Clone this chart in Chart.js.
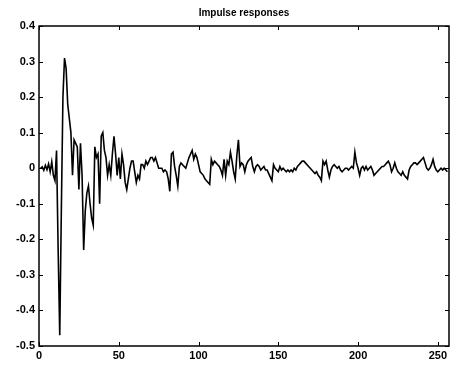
<!DOCTYPE html>
<html>
<head>
<meta charset="utf-8">
<script src="https://cdn.jsdelivr.net/npm/chart.js@4/dist/chart.umd.min.js"></script>
<style>
  html, body { margin: 0; padding: 0; background: #fff; }
  #wrap { width: 454px; height: 369px; }
</style>
</head>
<body>
<div id="wrap"><canvas id="impChart" width="454" height="369"></canvas></div>
<script>
// sample values, sample n = 1..256
const response = [
    0.00, 0.004, -0.006, 0.008, -0.004, 0.012, -0.01, 0.018, -0.02, -0.035,
    0.05, -0.23, -0.47, -0.12, 0.20, 0.31, 0.28, 0.18, 0.14, 0.10,
    -0.02, 0.08, 0.07, 0.06, -0.06, 0.07, -0.02, -0.23, -0.12, -0.07,
    -0.05, -0.10, -0.14, -0.16, 0.06, 0.03, 0.04, -0.10, 0.09, 0.10,
    0.05, 0.03, -0.02, 0.01, -0.02, 0.04, 0.09, 0.04, -0.02, 0.03,
    -0.03, 0.04, 0.01, -0.04, -0.06, -0.03, 0.00, 0.02, 0.02, -0.01,
    -0.04, -0.02, -0.03, 0.01, 0.01, 0.00, 0.02, 0.01, 0.02, 0.03,
    0.03, 0.02, 0.03, 0.015, 0.00, 0.00, 0.00, -0.01, -0.005, -0.01,
    -0.03, -0.065, 0.04, 0.045, 0.005, -0.02, -0.05, 0.005, 0.015, 0.01,
    0.005, 0.00, 0.015, 0.03, 0.04, 0.05, 0.025, 0.04, 0.03, 0.01,
    -0.01, -0.015, -0.02, -0.03, -0.035, -0.04, -0.045, 0.025, 0.01, 0.02,
    0.015, 0.01, 0.005, -0.005, -0.02, 0.025, -0.02, 0.02, 0.01, 0.045,
    0.02, -0.01, -0.03, 0.035, 0.08, 0.005, 0.015, 0.01, -0.01, 0.01,
    0.02, 0.025, 0.03, 0.005, -0.01, 0.005, 0.01, 0.005, -0.005, 0.00,
    0.005, -0.005, -0.005, -0.015, -0.025, -0.035, 0.01, 0.00, -0.005, -0.01,
    0.005, -0.005, 0.00, -0.005, -0.01, -0.005, -0.01, -0.005, -0.01, 0.00,
    -0.005, 0.005, 0.01, 0.015, 0.02, 0.02, 0.015, 0.01, 0.005, 0.00,
    -0.005, -0.01, -0.015, -0.01, -0.02, -0.025, -0.035, 0.02, 0.01, 0.02,
    -0.005, -0.025, -0.005, 0.005, 0.01, 0.005, 0.00, 0.005, -0.005, -0.01,
    -0.005, 0.00, 0.00, -0.005, 0.00, 0.005, 0.00, 0.045, 0.015, 0.00,
    -0.02, 0.00, 0.005, -0.005, 0.005, -0.005, 0.00, 0.005, -0.005, -0.02,
    -0.015, -0.01, -0.005, 0.00, 0.005, 0.005, 0.01, 0.015, 0.02, 0.01,
    -0.01, 0.00, 0.015, 0.00, -0.01, -0.015, -0.02, -0.01, -0.02, -0.025,
    -0.03, -0.005, 0.005, 0.01, 0.015, 0.015, 0.01, 0.015, 0.02, 0.025,
    0.03, 0.015, 0.00, -0.005, 0.00, 0.01, 0.025, 0.005, -0.005, -0.01,
    -0.005, 0.00, -0.005, 0.00, -0.005, -0.01
];
const xTicks = [0, 50, 100, 150, 200, 250];
const yTicks = [-0.5, -0.4, -0.3, -0.2, -0.1, 0, 0.1, 0.2, 0.3, 0.4];
const chartTitle = "Impulse responses";

const points = response.map((v, i) => ({x: i + 1, y: v}));
const labelFont = {family: "Liberation Sans, Arial, sans-serif", size: 11, weight: "bold"};

// matlab style box, inward ticks and title over the plot area
const matlabFrame = {
    id: "matlabFrame",
    afterDraw(chart) {
        const {ctx, chartArea: a, scales} = chart;
        ctx.save();
        ctx.strokeStyle = "#000";
        ctx.lineWidth = 1;
        ctx.beginPath();
        for (const t of xTicks) {
            const px = Math.round(scales.x.getPixelForValue(t)) + 0.5;
            ctx.moveTo(px, a.bottom); ctx.lineTo(px, a.bottom - 4);
            ctx.moveTo(px, a.top); ctx.lineTo(px, a.top + 4);
        }
        for (const t of yTicks) {
            const py = Math.round(scales.y.getPixelForValue(t)) + 0.5;
            ctx.moveTo(a.left, py); ctx.lineTo(a.left + 4, py);
            ctx.moveTo(a.right, py); ctx.lineTo(a.right - 4, py);
        }
        ctx.stroke();
        ctx.lineWidth = 1.5;
        ctx.strokeRect(a.left, a.top, a.right - a.left, a.bottom - a.top);
        ctx.fillStyle = "#000";
        ctx.font = "bold 10px Liberation Sans, Arial, sans-serif";
        ctx.textAlign = "center";
        ctx.textBaseline = "middle";
        ctx.fillText(chartTitle, (a.left + a.right) / 2, 13);
        ctx.restore();
    }
};

new Chart(document.getElementById("impChart").getContext("2d"), {
    type: "line",
    data: {
        datasets: [{
            data: points,
            borderColor: "#000",
            borderWidth: 1.6,
            pointRadius: 0,
            fill: false,
            tension: 0
        }]
    },
    options: {
        responsive: false,
        animation: false,
        layout: {padding: {top: 26, right: 5, left: 0, bottom: 0}},
        plugins: {legend: {display: false}, title: {display: false}, tooltip: {enabled: false}},
        scales: {
            x: {
                type: "linear",
                min: 0,
                max: 257,
                afterBuildTicks: s => { s.ticks = xTicks.map(v => ({value: v})); },
                afterFit: s => { s.height = 23; },
                grid: {display: false, drawTicks: false},
                border: {display: false},
                ticks: {color: "#000", font: labelFont, padding: 3, maxRotation: 0}
            },
            y: {
                min: -0.5,
                max: 0.4,
                afterBuildTicks: s => { s.ticks = yTicks.map(v => ({value: v})); },
                afterFit: s => { s.width = 39; },
                grid: {display: false, drawTicks: false},
                border: {display: false},
                ticks: {
                    color: "#000", font: labelFont, padding: 4,
                    callback: v => Number(v.toFixed(1)).toString()
                }
            }
        }
    },
    plugins: [matlabFrame]
});
</script>
</body>
</html>
